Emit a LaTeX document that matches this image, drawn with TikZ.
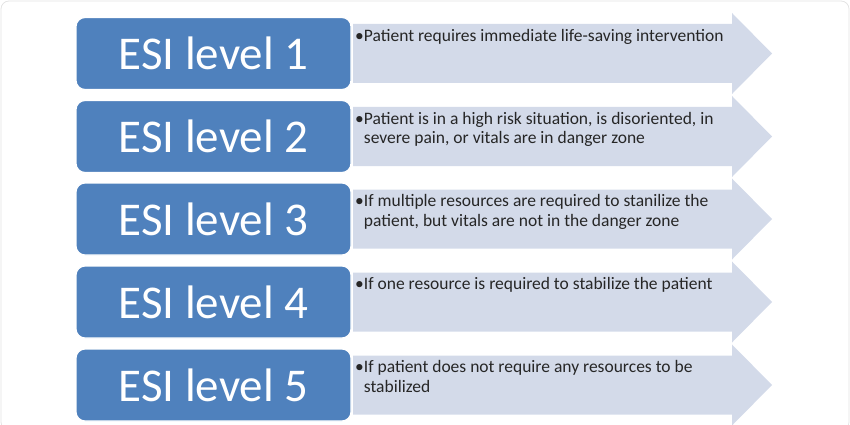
\documentclass[tikz,border=0pt]{standalone}
\usepackage{fontspec}
\setmainfont{Carlito}
\definecolor{esiblue}{RGB}{79, 129, 189}
\definecolor{arrowgrey}{RGB}{211, 218, 233}
\definecolor{framegrey}{RGB}{228, 228, 228}
\usetikzlibrary{positioning}
\tikzset{
  levelbox/.style={fill=esiblue, draw=white, line width=1.2pt, rounded corners=9pt,
    minimum width=275pt, minimum height=72pt, inner sep=0pt, text=white,
    font=\fontsize{47}{52}\selectfont},
  arrowbg/.style={fill=arrowgrey},
  desctext/.style={anchor=north west, inner sep=0pt, align=left,
    font=\fontsize{17.5}{19.5}\selectfont, text=black!85}
}

\begin{document}
\begin{tikzpicture}[x=1pt, y=-1pt]
  \useasboundingbox (0,0) rectangle (850,425);
  \draw[framegrey, line width=0.8pt, rounded corners=8pt] (1,1) rectangle (849,430);

  % Level 1
  \fill[arrowbg] (353,24) -- (732,24) -- (732,13) -- (772,53.5) -- (732,94) -- (732,83) -- (353,83) -- cycle;
  \node[levelbox] (lvl1) at (213.5,53.5) {ESI level 1};
  \node[desctext] (desc1) at (355,29) {\textbullet Patient requires immediate life-saving intervention};

  % Level 2
  \fill[arrowbg] (353,107) -- (732,107) -- (732,96) -- (772,136.5) -- (732,177) -- (732,166) -- (353,166) -- cycle;
  \node[levelbox] (lvl2) at (213.5,136.5) {ESI level 2};
  \node[desctext] (desc2) at (355,112) {\textbullet Patient is in a high risk situation, is disoriented, in\\
    \phantom{\textbullet}severe pain, or vitals are in danger zone};

  % Level 3
  \fill[arrowbg] (353,189.5) -- (732,189.5) -- (732,178.5) -- (772,219) -- (732,259.5) -- (732,248.5) -- (353,248.5) -- cycle;
  \node[levelbox] (lvl3) at (213.5,219) {ESI level 3};
  \node[desctext] (desc3) at (355,194.5) {\textbullet If multiple resources are required to stanilize the\\
    \phantom{\textbullet}patient, but vitals are not in the danger zone};

  % Level 4
  \fill[arrowbg] (353,272.5) -- (732,272.5) -- (732,261.5) -- (772,302) -- (732,342.5) -- (732,331.5) -- (353,331.5) -- cycle;
  \node[levelbox] (lvl4) at (213.5,302) {ESI level 4};
  \node[desctext] (desc4) at (355,277.5) {\textbullet If one resource is required to stabilize the patient};

  % Level 5
  \fill[arrowbg] (353,355.5) -- (732,355.5) -- (732,344.5) -- (772,385) -- (732,425.5) -- (732,414.5) -- (353,414.5) -- cycle;
  \node[levelbox] (lvl5) at (213.5,385) {ESI level 5};
  \node[desctext] (desc5) at (355,360.5) {\textbullet If patient does not require any resources to be\\
    \phantom{\textbullet}stabilized};
\end{tikzpicture}
\end{document}
